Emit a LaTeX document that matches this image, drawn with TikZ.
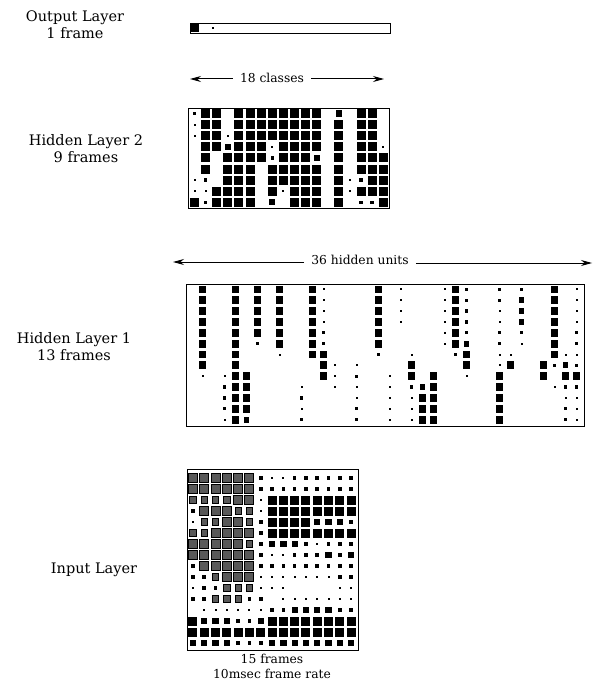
\documentclass[tikz,border=0pt]{standalone}
\usepackage{fontspec}
\setmainfont{DejaVu Serif}
\usetikzlibrary{arrows.meta}
\tikzset{
  lab/.style={font=\fontsize{14.5}{17}\selectfont, align=center, inner sep=0pt},
  smalllab/.style={font=\fontsize{12.3}{15}\selectfont, align=center, inner sep=0pt},
  frame/.style={draw=black, line width=0.9pt},
  arr/.style={line width=1pt, -{Stealth[length=11pt,width=6pt]}},
  texcell/.style={fill=black!65, draw=black, line width=1pt},
}
\newcommand\cellsizes[4]{\def\szA{#1}\def\szB{#2}\def\szC{#3}\def\szD{#4}}
\newcommand\drawgrid[5]{%
 \foreach \rw [count=\r from 0] in {#5} {
  \foreach \cd [count=\c from 0] in \rw {
    \pgfmathsetmacro\cx{#1+#3*(\c+0.5)}
    \pgfmathsetmacro\cy{#2+#4*(\r+0.5)}
    \ifcase\cd\relax
    \or \fill (\cx-\szA/2,\cy-\szA/2) rectangle ++(\szA,\szA);
    \or \fill (\cx-\szB/2,\cy-\szB/2) rectangle ++(\szB,\szB);
    \or \fill (\cx-\szC/2,\cy-\szC/2) rectangle ++(\szC,\szC);
    \or \fill (\cx-\szD/2,\cy-\szD/2) rectangle ++(\szD,\szD);
    \or \path[texcell] (\cx-\szD/2,\cy-\szD/2) rectangle ++(\szD,\szD);
    \or \path[texcell] (\cx-\szC/2,\cy-\szC/2) rectangle ++(\szC,\szC);
    \fi
  }
 }
}
\begin{document}
\begin{tikzpicture}[x=1pt,y=-1pt]
\useasboundingbox (0,0) rectangle (599,684);

% labels
\node[lab] (outlab) at (75,24.5) {Output Layer\\1 frame};
\node[lab] (h2lab) at (86,149) {Hidden Layer 2\\9 frames};
\node[lab] (h1lab) at (74,346.5) {Hidden Layer 1\\13 frames};
\node[lab] (inlab) at (94,570) {Input Layer};
\node[smalllab] (inframes) at (272,666) {15 frames\\10msec frame rate};

% output layer
\draw[frame] (190,23) rectangle (390,33);
\fill (191,24) rectangle (198.5,32);
\fill (212.2,27.2) rectangle ++(1.6,1.6);

% 18 classes arrow
\node[smalllab, inner xsep=7pt] (cls) at (272,78) {18 classes};
\coordinate (clsL) at (190,79);
\coordinate (clsR) at (384,79);
\draw[arr] (cls.west |- clsL) -- (clsL);
\draw[arr] (cls.east |- clsR) -- (clsR);

% hidden layer 2
\draw[frame] (188,108) rectangle (389,208);
\cellsizes{2}{3.5}{6.3}{9}
\drawgrid{189}{108}{11.1}{11.1}{
{2,4,4,0,4,4,4,4,4,4,4,4,0,3,0,4,4,0},
{1,4,4,0,4,4,4,4,4,4,4,4,0,4,0,4,4,0},
{1,4,4,1,4,4,4,4,4,4,4,4,0,4,0,4,4,0},
{0,4,4,3,4,4,4,1,4,4,4,4,0,4,0,4,4,1},
{0,4,0,4,4,4,4,2,4,4,4,3,0,4,0,4,4,4},
{0,4,0,4,4,4,0,4,4,4,4,4,0,4,0,4,4,4},
{1,2,0,4,4,4,0,4,4,4,4,4,0,4,1,2,4,4},
{1,1,4,4,4,4,0,4,1,4,4,4,0,4,1,4,4,4},
{4,2,4,4,4,4,0,3,0,4,4,4,0,4,0,2,2,4}}

% 36 hidden units arrow
\node[smalllab, inner xsep=7pt] (hid) at (360,260) {36 hidden units};
\coordinate (hidL) at (173,262);
\coordinate (hidR) at (592,263);
\draw[arr] (hid.west |- hidL) -- (hidL);
\draw[arr] (hid.east |- hidR) -- (hidR);

% hidden layer 1
\draw[frame] (186,284) rectangle (584,426);
\cellsizes{2}{3.3}{5.8}{7.8}
\drawgrid{186}{284}{11.0}{10.85}{
{0,4,0,0,4,0,4,0,4,0,0,4,1,0,0,0,0,4,0,1,0,0,0,1,4,2,0,0,2,0,2,0,0,4,0,1},
{0,4,0,0,4,0,4,0,4,0,0,4,1,0,0,0,0,4,0,1,0,0,0,1,4,2,0,0,2,0,3,0,0,4,0,1},
{0,4,0,0,4,0,4,0,4,0,0,4,1,0,0,0,0,4,0,1,0,0,0,1,4,2,0,0,1,0,3,0,0,4,0,1},
{0,4,0,0,4,0,4,0,4,0,0,4,1,0,0,0,0,4,0,1,0,0,0,1,4,2,0,0,1,0,3,0,0,4,0,1},
{0,4,0,0,4,0,4,0,4,0,0,4,2,0,0,0,0,4,0,0,0,0,0,1,4,2,0,0,2,0,2,0,0,4,0,2},
{0,4,0,0,4,0,2,0,4,0,0,4,2,0,0,0,0,4,0,0,0,0,0,1,4,3,0,0,2,0,1,0,0,4,0,2},
{0,4,0,0,4,0,0,0,1,0,0,4,4,0,0,0,0,2,0,0,1,0,0,0,2,4,0,0,1,1,0,0,0,4,1,1},
{0,4,0,0,4,0,0,0,0,0,0,0,4,1,0,1,0,0,0,0,4,0,0,0,0,4,0,0,1,4,0,0,4,2,3,2},
{0,1,0,1,4,4,0,0,0,0,0,0,4,1,0,2,0,0,1,0,4,0,4,0,0,1,0,0,4,0,0,0,4,0,4,4},
{0,0,0,2,4,4,0,0,0,0,1,0,0,1,0,1,0,0,1,0,2,3,4,0,0,0,0,0,4,0,0,0,0,1,2,2},
{0,0,0,2,4,4,0,0,0,0,2,0,0,0,0,1,0,0,1,0,1,4,4,0,0,0,0,0,4,0,0,0,0,0,1,1},
{0,0,0,2,4,4,0,0,0,0,1,0,0,0,0,2,0,0,1,0,1,4,4,0,0,0,0,0,4,0,0,0,0,0,2,1},
{0,0,0,1,4,3,0,0,0,0,2,0,0,0,0,2,0,0,1,0,1,4,4,0,0,0,0,0,4,0,0,0,0,0,2,1}}

% input layer
\draw[frame] (187,469) rectangle (358,650);
\cellsizes{2}{3.6}{6.3}{9}
\drawgrid{187.3}{472.5}{11.3}{11.0}{
{5,5,5,5,5,5,2,1,1,2,2,2,2,2,2},
{5,5,5,5,5,5,2,2,2,2,2,2,2,2,2},
{6,6,6,6,5,5,1,4,4,4,4,4,4,4,4},
{2,5,5,5,6,6,1,4,4,4,4,4,4,4,4},
{1,6,6,5,5,6,2,4,4,4,4,3,3,3,2},
{6,6,5,5,5,5,2,4,4,4,4,4,4,4,4},
{5,5,5,5,5,6,2,3,3,3,2,1,2,2,2},
{5,5,5,5,5,5,2,1,1,2,2,2,3,2,3},
{2,5,5,5,5,5,2,2,2,2,2,2,2,2,2},
{2,2,6,5,5,5,1,1,1,1,1,1,1,2,2},
{1,2,2,6,6,6,1,1,1,0,0,0,0,1,1},
{2,2,6,6,6,2,2,0,1,1,1,1,1,1,1},
{0,1,1,1,1,1,1,2,2,3,3,3,3,2,2},
{4,3,3,3,2,2,3,4,4,4,4,4,4,4,4},
{4,4,4,4,4,4,4,4,4,4,4,4,4,4,4},
{3,3,3,3,2,2,2,3,3,3,3,3,3,3,3}}
\end{tikzpicture}
\end{document}
